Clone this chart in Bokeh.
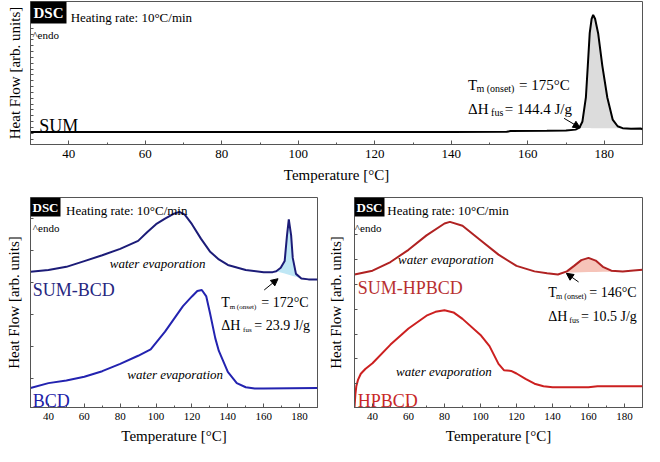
import numpy as np
from bokeh.plotting import figure
from bokeh.models import Range1d, FixedTicker, Label, Arrow, NormalHead
from bokeh.layouts import column, row
from bokeh.embed import file_html
from bokeh.resources import INLINE

SERIF = "Liberation Serif"

# ---------------- data ----------------
temp_ticks = [40, 60, 80, 100, 120, 140, 160, 180]
temp_minor = [30, 50, 70, 90, 110, 130, 150, 170, 190]

# SUM (top panel)
sum_T = [30, 60, 100, 140, 154.5, 155.5, 165, 170, 172.5, 173.5, 174.3, 175.2, 175.7,
         176.2, 176.7, 177.1, 177.6, 178.4, 179.5, 180.8, 182.2, 183.5, 184.8, 187, 189.5, 190]
sum_hf = [13, 13, 13, 13, 13.2, 14, 14.2, 14.6, 15.5, 17.5, 24, 49, 82,
          116, 131, 135, 131, 116, 82, 49, 26, 19, 17, 16.5, 16.8, 15.8]
sum_fill_range = [173.3, 185.0]

# SUM-BCD and BCD (bottom-left panel)
sumbcd_T = [30, 40, 50, 60, 70, 80, 90, 95, 100, 105, 110, 113, 116, 120, 125, 130, 135, 140,
            150, 160, 165, 167, 169.5, 171.7, 173, 174, 175.3, 176.2, 178, 181, 185, 190]
sumbcd_hf = [141, 142.7, 146, 152, 158, 164.7, 173, 182, 190.3, 196, 201.3, 203, 200.3, 190.3,
             175.3, 162, 153.7, 148, 142.7, 140.3, 140.5, 141.5, 145, 152, 178.7, 195.3, 178.7,
             155.3, 138.7, 134, 133, 133]
sumbcd_fill_range = [167.0, 181.0]

bcd_T = [30, 40, 50, 60, 70, 80, 90, 97, 105, 110, 115, 120, 123, 125.5, 128, 130, 133, 135,
         140, 145, 150, 155, 160, 190]
bcd_hf = [20.3, 25.3, 28, 32, 37.7, 45.3, 53.7, 60.3, 78.7, 92, 105.3, 115.3, 121, 122, 115.3,
          98.7, 72, 58.7, 37, 25.3, 21, 19.7, 19.7, 20.3]

# SUM-HPBCD and HPBCD (bottom-right panel)
sumhp_T = [30, 40, 50, 60, 70, 80, 83, 90, 100, 110, 120, 130, 137, 143, 148, 152, 156, 160,
           164, 168, 172.7, 179, 185, 190]
sumhp_hf = [138, 142, 151, 163.7, 178.7, 191, 192.7, 188.7, 173.7, 158.7, 147, 141.3, 139.3,
            138, 141.3, 147, 153, 155.3, 152.5, 146, 142, 141.3, 142.3, 143]
sumhp_fill_range = [146.0, 179.0]

hp_T = [30, 30.5, 31, 32, 33.5, 36, 40, 50, 60, 70, 75, 80, 85, 90, 100, 105, 110, 113, 117,
        120, 125, 130, 135, 140, 160, 165, 190]
hp_hf = [0, 14, 22, 29, 35, 40, 46, 65.3, 82, 95.3, 99.3, 101, 98.7, 92, 75.3, 63.7, 45.3,
         38.7, 38, 35.3, 29.7, 24.7, 22, 21, 21, 22, 22]


# ---------------- helpers ----------------
def panel(width, height, bl, br, bt, bb, ymax, yticks, tick_size, ylab_standoff, xlab_standoff):
    p = figure(width=width, height=height, x_range=Range1d(30, 190), y_range=Range1d(0, ymax),
               output_backend="svg", toolbar_location=None,
               min_border_left=bl, min_border_right=br, min_border_top=bt, min_border_bottom=bb)
    p.xaxis.axis_label = "Temperature [°C]"
    p.yaxis.axis_label = "Heat Flow [arb. units]"
    p.xaxis.ticker = FixedTicker(ticks=temp_ticks, minor_ticks=temp_minor)
    # unlabeled y ticks (arbitrary units): drawn as minor ticks only
    p.yaxis.ticker = FixedTicker(ticks=[], minor_ticks=list(yticks))
    p.yaxis.major_tick_in = 0
    p.yaxis.major_tick_out = 0
    p.yaxis.minor_tick_in = 3
    p.yaxis.minor_tick_out = 0
    p.yaxis.axis_label_standoff = ylab_standoff
    p.xaxis.major_tick_in = 4
    p.xaxis.major_tick_out = 0
    p.xaxis.minor_tick_in = 2
    p.xaxis.minor_tick_out = 0
    p.xaxis.major_label_text_font = SERIF
    p.xaxis.major_label_text_font_size = tick_size
    p.xaxis.major_label_text_color = "black"
    p.xaxis.major_label_standoff = 5
    p.xaxis.axis_label_standoff = xlab_standoff
    p.axis.axis_label_text_font = SERIF
    p.axis.axis_label_text_font_style = "normal"
    p.axis.axis_label_text_font_size = "15px"
    p.axis.axis_label_text_color = "black"
    p.axis.axis_line_color = "#555555"
    p.axis.major_tick_line_color = "#555555"
    p.axis.minor_tick_line_color = "#555555"
    p.outline_line_color = "#555555"
    p.outline_line_width = 1
    p.grid.visible = False
    return p


def lab(p, x, y, text, size, color="black", style="normal", xo=0, yo=0, font=SERIF):
    p.add_layout(Label(x=x, y=y, text=text, text_font=font, text_font_size=size,
                       text_color=color, text_font_style=style, x_offset=xo, y_offset=yo,
                       text_align="left", text_baseline="alphabetic"))


def header(p, ymax, dsc_size, pad, hx, hy, ex, ey, hsize):
    p.add_layout(Label(x=30, y=ymax, text="DSC", text_font=SERIF, text_font_size=dsc_size,
                       text_font_style="bold", text_color="white", background_fill_color="black",
                       anchor="top_left", padding=pad))
    lab(p, hx, hy, "Heating rate: 10°C/min", hsize)
    lab(p, ex, ey, "^endo", "11px")


def onset(p, x, y1, y2, size, sub_size, t_text, h_text, t_sub_dx, t_eq_dx, h_sub_dx, h_eq_dx):
    lab(p, x, y1, "T", size)
    lab(p, x, y1, "m (onset)", sub_size, xo=t_sub_dx, yo=-4)
    lab(p, x, y1, t_text, size, xo=t_eq_dx)
    lab(p, x, y2, "ΔH", size)
    lab(p, x, y2, "fus", sub_size, xo=h_sub_dx, yo=-4)
    lab(p, x, y2, h_text, size, xo=h_eq_dx)


def fill(p, T, hf, rng, color):
    T = np.asarray(T, float)
    hf = np.asarray(hf, float)
    a, b = rng
    inner = (T > a) & (T < b)
    xs = np.concatenate([[a], T[inner], [b]])
    top = np.concatenate([[np.interp(a, T, hf)], hf[inner], [np.interp(b, T, hf)]])
    base = np.interp(xs, [a, b], [np.interp(a, T, hf), np.interp(b, T, hf)])
    p.varea(x=xs, y1=base, y2=top, fill_color=color, fill_alpha=1.0)


def arrow(p, xs, ys, xe, ye):
    p.add_layout(Arrow(end=NormalHead(size=7, fill_color="black", line_color="black"),
                       x_start=xs, y_start=ys, x_end=xe, y_end=ye,
                       line_color="black", line_width=1))


# ---------------- top panel ----------------
top = panel(644, 190, 30, 2, 1, 46, 149, np.arange(5.7, 149, 6.07), "13px", 8, 6)
fill(top, sum_T, sum_hf, sum_fill_range, "#dcdcdc")
top.line(sum_T, sum_hf, line_color="black", line_width=2)
header(top, 149, "15px", 3, 40.5, 132, 30.5, 114, "13px")
lab(top, 32.3, 19, "SUM", "18px")
onset(top, 144.4, 62, 37, "15px", "10px", "= 175°C", "= 144.4 J/g", 8.3, 51, 23, 36.7)
arrow(top, 169.5, 27.3, 173.7, 17.3)

# ---------------- bottom-left panel ----------------
bl = panel(322, 256, 30, 5, 7, 39, 218, np.arange(29.7, 218, 33.4), "11px", 9, 5)
fill(bl, sumbcd_T, sumbcd_hf, sumbcd_fill_range, "#bfe7f5")
bl.line(sumbcd_T, sumbcd_hf, line_color="#1c1c78", line_width=2)
bl.line(bcd_T, bcd_hf, line_color="#2323b0", line_width=2)
header(bl, 218, "13px", 2, 49.8, 205, 31.3, 186, "13px")
lab(bl, 31.3, 122, "SUM-BCD", "18px", color="#262680")
lab(bl, 31.3, 7, "BCD", "18px", color="#2020a8")
lab(bl, 74.2, 150, "water evaporation", "13px", style="italic")
lab(bl, 84.0, 34, "water evaporation", "13px", style="italic")
onset(bl, 136.4, 109, 85, "14px", "7px", "= 172°C", "= 23.9 J/g", 8.3, 40, 21.7, 33)
arrow(bl, 160.3, 122, 168, 133.7)

# ---------------- bottom-right panel ----------------
br = panel(322, 256, 32, 2, 7, 39, 218, np.arange(24.7, 218, 25.8), "11px", 11, 5)
fill(br, sumhp_T, sumhp_hf, sumhp_fill_range, "#f6c4b9")
br.line(sumhp_T, sumhp_hf, line_color="#b02222", line_width=2)
br.line(hp_T, hp_hf, line_color="#cc2020", line_width=2)
header(br, 218, "13px", 2, 48.2, 204, 30.2, 186, "13px")
lab(br, 31.8, 124, "SUM-HPBCD", "18px", color="#b83030")
lab(br, 31.8, 7, "HPBCD", "18px", color="#c82828")
lab(br, 54.2, 154, "water evaporation", "13px", style="italic")
lab(br, 53.1, 37, "water evaporation", "13px", style="italic")
onset(br, 137.7, 119, 94, "14px", "8px", "= 146°C", "= 10.5 J/g", 7.7, 41, 21, 32.7)
arrow(br, 154.5, 130.3, 147.7, 139.3)

layout = column(top, row(bl, br))
open("out.html", "w").write(file_html(layout, INLINE))
